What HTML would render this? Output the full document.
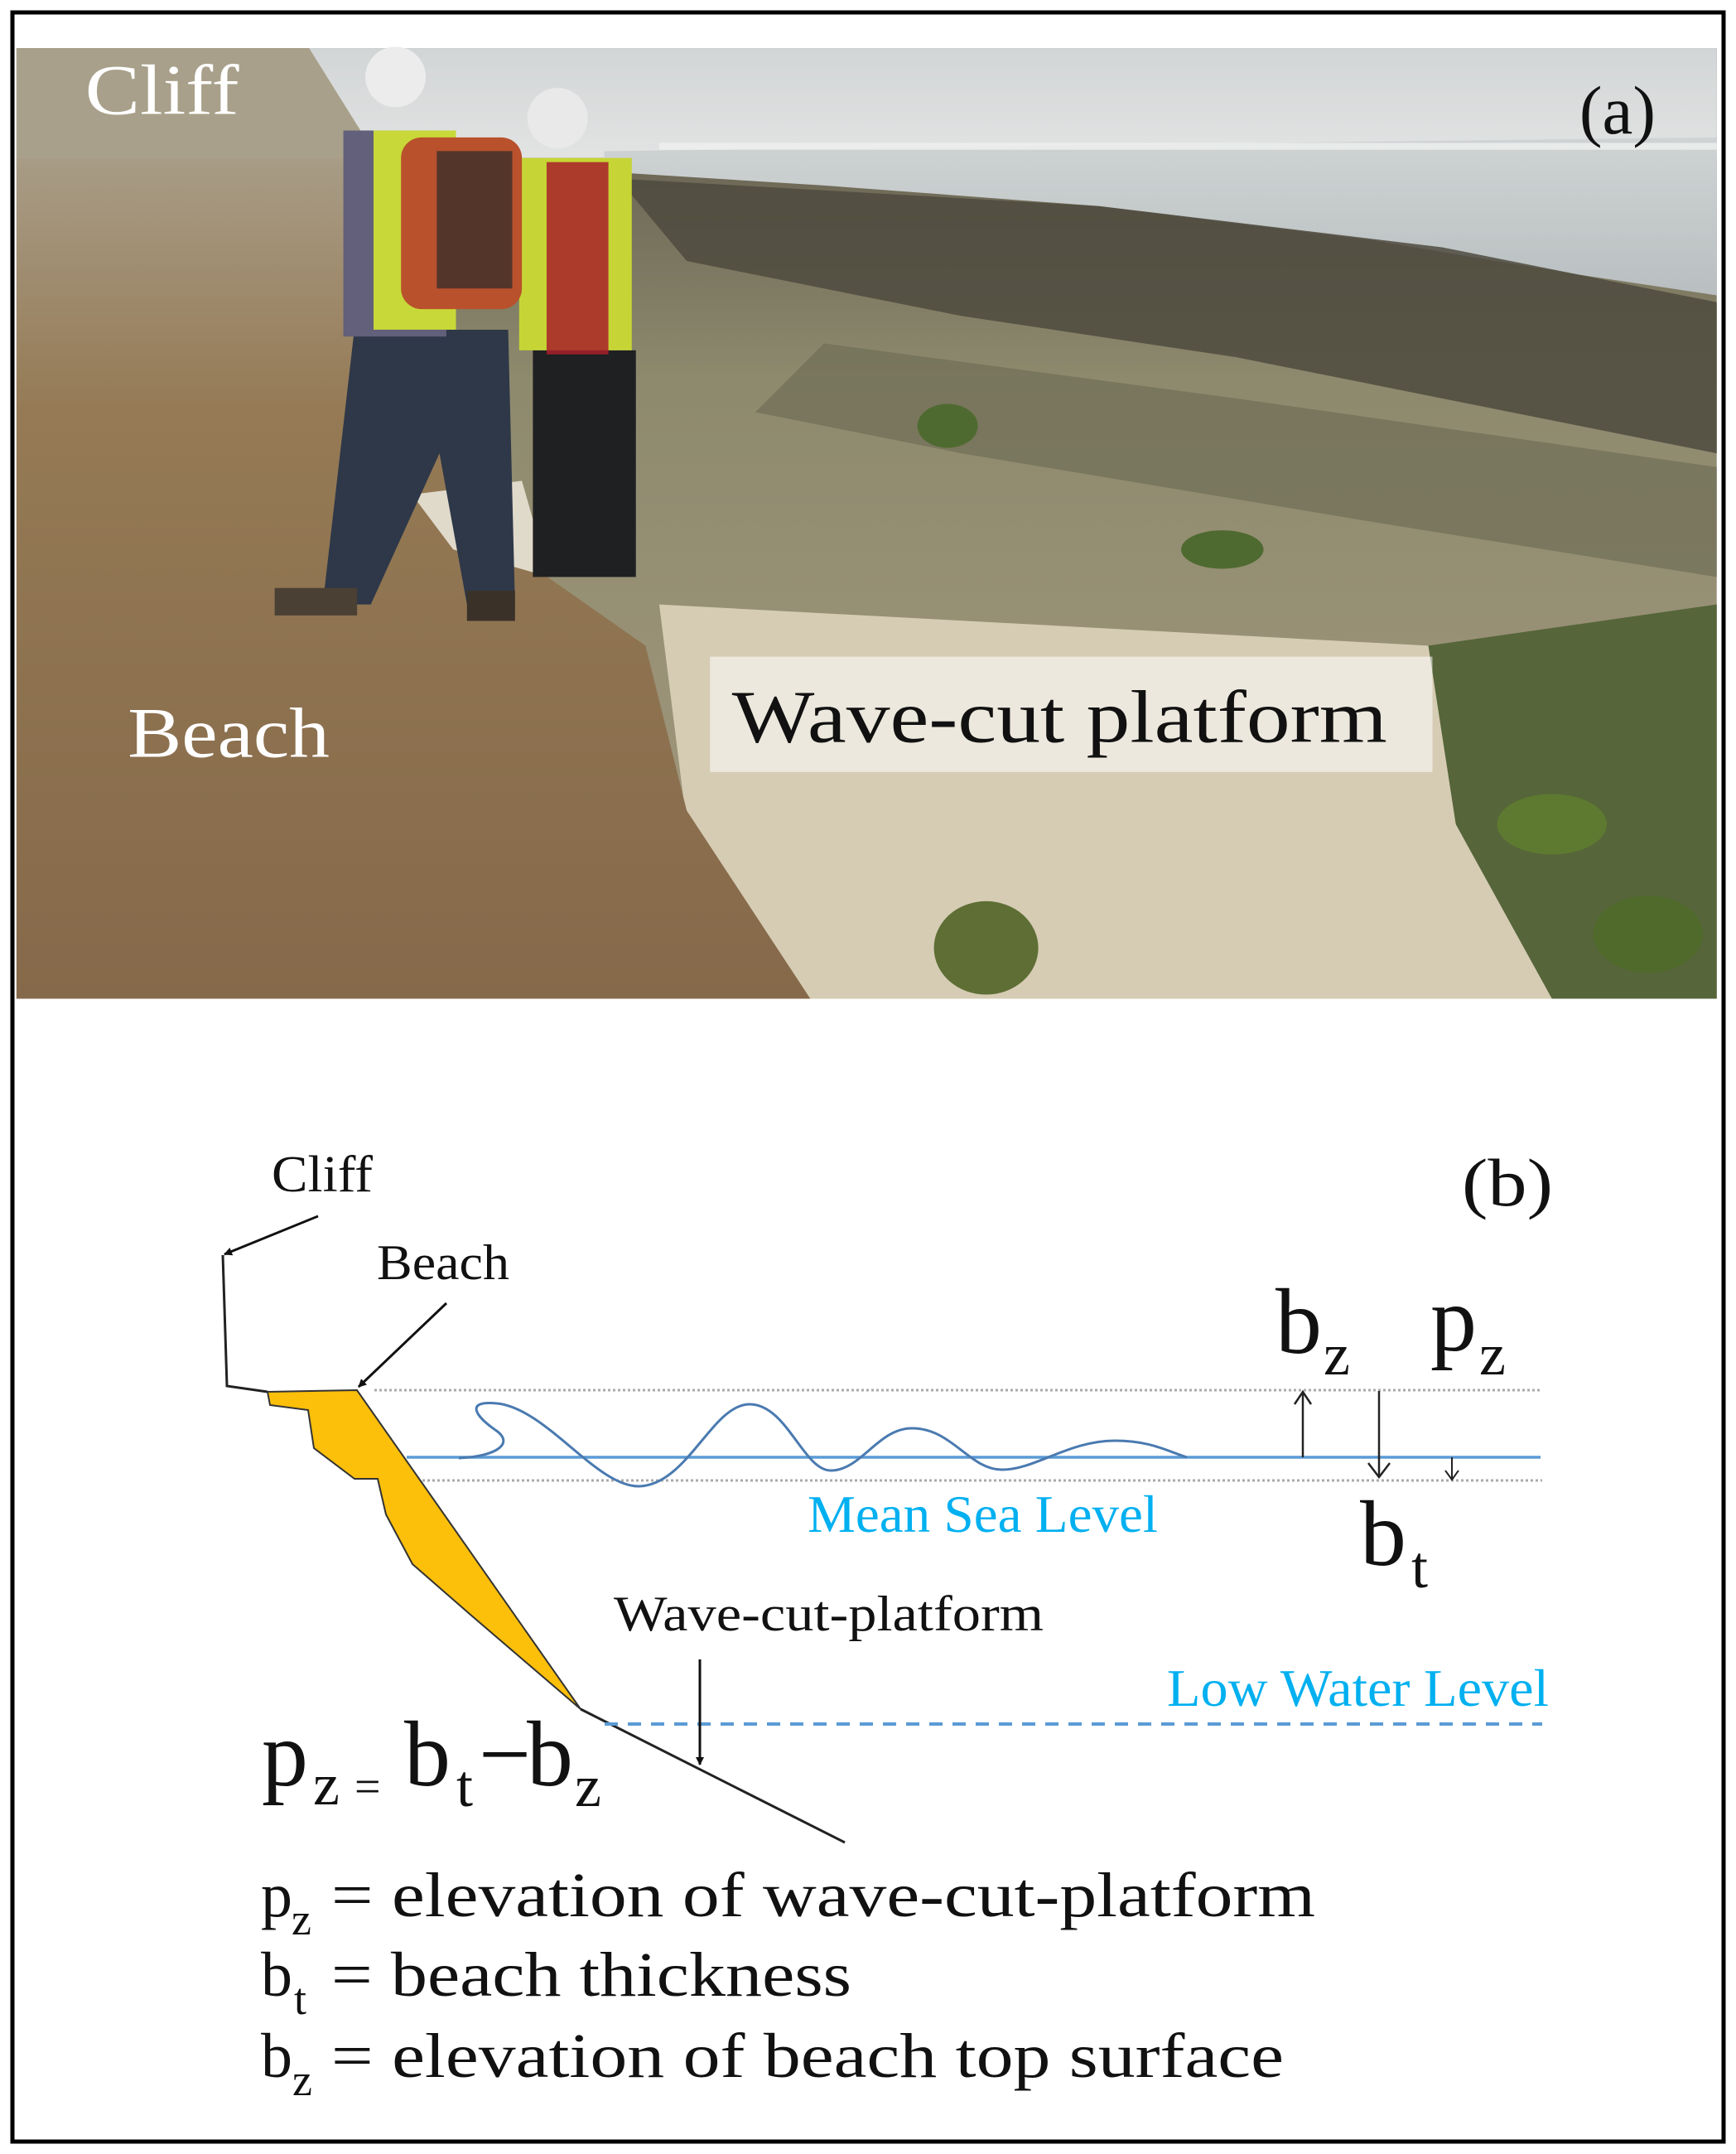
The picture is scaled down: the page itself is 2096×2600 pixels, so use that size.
<!DOCTYPE html>
<html><head><meta charset="utf-8"><style>
html,body{margin:0;padding:0;background:#fff}
svg{display:block}
text{font-family:"Liberation Serif",serif}
</style></head><body>
<svg width="2096" height="2600" viewBox="0 0 2096 2600" xmlns="http://www.w3.org/2000/svg">
<defs>
<linearGradient id="sky" x1="0" y1="0" x2="0" y2="1"><stop offset="0" stop-color="#d2d5d6"/><stop offset="1" stop-color="#e2e3e3"/></linearGradient>
<linearGradient id="sea" x1="0" y1="0" x2="0" y2="1"><stop offset="0" stop-color="#cfd3d4"/><stop offset="1" stop-color="#b9bfc0"/></linearGradient>
<linearGradient id="beach" x1="0" y1="0" x2="0" y2="1"><stop offset="0" stop-color="#a89c86"/><stop offset="0.3" stop-color="#957a55"/><stop offset="1" stop-color="#85694a"/></linearGradient>
<linearGradient id="plat" x1="0" y1="0" x2="0" y2="1"><stop offset="0" stop-color="#5a5548"/><stop offset="0.35" stop-color="#8e8a6e"/><stop offset="1" stop-color="#a59a80"/></linearGradient>
<marker id="fa" markerWidth="10" markerHeight="10" refX="9" refY="5" orient="auto" markerUnits="userSpaceOnUse" viewBox="0 0 10 10"><path d="M0,0 L10,5 L0,10 z" fill="#111"/></marker>
</defs>
<rect x="0" y="0" width="2096" height="2600" fill="#fff"/>
<g transform="scale(1.6582)">
  <rect x="12" y="35" width="1238" height="692" fill="url(#plat)"/>
  <rect x="12" y="35" width="1238" height="80" fill="url(#sky)"/>
  <polygon points="440,110 1250,100 1250,215 1150,200 1000,175 800,150 600,135 440,125" fill="url(#sea)"/>
  <rect x="480" y="104" width="770" height="5" fill="#f0f0f0" opacity="0.8"/>
  <polygon points="450,130 800,150 1050,180 1250,220 1250,330 1100,300 900,260 700,230 500,190" fill="#4e4a3e" opacity="0.85"/>
  <polygon points="600,250 900,290 1250,340 1250,420 1000,380 700,330 550,300" fill="#6f6d55" opacity="0.7"/>
  <polygon points="480,440 1040,470 1100,600 1200,727 560,727 500,600" fill="#d6ccb4"/>
  <polygon points="1040,470 1250,440 1250,727 1130,727 1060,600" fill="#56653a"/>
  <ellipse cx="718" cy="690" rx="38" ry="34" fill="#5e6e34"/>
  <ellipse cx="1130" cy="600" rx="40" ry="22" fill="#5d7a30"/>
  <ellipse cx="1200" cy="680" rx="40" ry="28" fill="#4f6a2a"/>
  <ellipse cx="690" cy="310" rx="22" ry="16" fill="#4f6a30"/>
  <ellipse cx="890" cy="400" rx="30" ry="14" fill="#4f6a30"/>
  <polygon points="12,35 225,35 275,115 12,122" fill="#a8a08a"/>
  <polygon points="12,115 255,115 300,250 370,400 470,470 500,590 590,727 12,727" fill="url(#beach)"/>
  <polygon points="300,360 380,350 400,420 330,400" fill="#e0dacb"/>
  <rect x="388" y="255" width="75" height="165" fill="#1f2022"/>
  <rect x="378" y="115" width="82" height="140" fill="#c6d535"/>
  <rect x="398" y="118" width="45" height="140" fill="#a8202a" opacity="0.85"/>
  <circle cx="406" cy="86" r="22" fill="#e9e9e9"/>
  <polygon points="258,240 370,240 375,440 340,440 320,330 270,440 235,440" fill="#2e3848"/>
  <rect x="250" y="95" width="75" height="150" fill="#62607a"/>
  <rect x="272" y="95" width="60" height="145" fill="#c8d838"/>
  <rect x="292" y="100" width="88" height="125" rx="15" fill="#b8512c"/>
  <rect x="318" y="110" width="55" height="100" fill="#2a2a2a" opacity="0.7"/>
  <circle cx="288" cy="56" r="22" fill="#ececec"/>
  <rect x="200" y="428" width="60" height="20" fill="#4a4034"/>
  <rect x="340" y="430" width="35" height="22" fill="#3a3228"/>
  <text x="62" y="83" font-size="52" fill="#fff" textLength="112" lengthAdjust="spacingAndGlyphs">Cliff</text>
  <text x="1150" y="97" font-size="50" fill="#111">(a)</text>
  <text x="93" y="551" font-size="52" fill="#fff" textLength="147" lengthAdjust="spacingAndGlyphs">Beach</text>
  <rect x="517" y="478" width="526" height="84" fill="#fff" opacity="0.55"/>
  <text x="533" y="540" font-size="54" fill="#111" textLength="477" lengthAdjust="spacingAndGlyphs">Wave-cut platform</text>
</g>
<rect x="15" y="15" width="2066" height="2570" fill="none" stroke="#000" stroke-width="5"/>

<text x="1765" y="1455" font-size="82" fill="#111" textLength="110" lengthAdjust="spacingAndGlyphs">(b)</text>
<text x="328" y="1438" font-size="62" fill="#111" textLength="122" lengthAdjust="spacingAndGlyphs">Cliff</text>
<text x="455" y="1544" font-size="60" fill="#111" textLength="160" lengthAdjust="spacingAndGlyphs">Beach</text>
<line x1="384" y1="1468" x2="271" y2="1514" stroke="#111" stroke-width="3" marker-end="url(#fa)"/>
<line x1="539" y1="1573" x2="433" y2="1674" stroke="#111" stroke-width="3" marker-end="url(#fa)"/>
<polyline points="269,1515 274,1673 323,1680" fill="none" stroke="#222" stroke-width="3"/>
<line x1="452" y1="1678" x2="1862" y2="1678" stroke="#aaa" stroke-width="3" stroke-dasharray="3,3"/>
<line x1="456" y1="1787" x2="1862" y2="1787" stroke="#aaa" stroke-width="3" stroke-dasharray="3,3"/>
<line x1="491" y1="1759" x2="1860" y2="1759" stroke="#5b9bd5" stroke-width="3.5"/>
<polygon points="323,1680 431,1678 701,2063 568,1949 498,1888 466,1828 456,1785 428,1785 379,1748 372,1702 326,1696" fill="#fcbf0a" stroke="#333" stroke-width="2"/>
<line x1="701" y1="2063" x2="1020" y2="2224" stroke="#222" stroke-width="3"/>
<line x1="730" y1="2081" x2="1862" y2="2081" stroke="#5b9bd5" stroke-width="4" stroke-dasharray="16,12"/>
<path d="M554,1760 C600,1758 622,1742 598,1726 C575,1710 560,1690 600,1694 C660,1700 720,1795 772,1794 C830,1792 860,1695 905,1695 C950,1695 970,1775 1003,1775 C1040,1775 1060,1724 1101,1724 C1150,1724 1170,1774 1210,1774 C1250,1774 1290,1739 1346,1739 C1390,1739 1410,1752 1433,1759" fill="none" stroke="#4a7ab0" stroke-width="3"/>
<line x1="1573" y1="1759" x2="1573" y2="1681" stroke="#222" stroke-width="2.5"/>
<polyline points="1563,1695 1573,1680 1583,1695" fill="none" stroke="#222" stroke-width="2.5"/>
<line x1="1665" y1="1679" x2="1665" y2="1782" stroke="#222" stroke-width="2.5"/>
<polyline points="1652,1766 1665,1783 1678,1766" fill="none" stroke="#222" stroke-width="2.5"/>
<line x1="1753" y1="1759" x2="1753" y2="1785" stroke="#222" stroke-width="2"/>
<polyline points="1745,1775 1753,1786 1761,1775" fill="none" stroke="#222" stroke-width="2"/>
<text x="1540" y="1633" font-size="112" fill="#111">b</text>
<text x="1598" y="1659" font-size="72" fill="#111">z</text>
<text x="1727" y="1630" font-size="112" fill="#111">p</text>
<text x="1786" y="1659" font-size="72" fill="#111">z</text>
<text x="1642" y="1889" font-size="112" fill="#111">b</text>
<text x="1704" y="1916" font-size="72" fill="#111">t</text>
<text x="975" y="1849" font-size="64" fill="#00b0f0" textLength="423" lengthAdjust="spacingAndGlyphs">Mean Sea Level</text>
<text x="1409" y="2059" font-size="64" fill="#00b0f0" textLength="461" lengthAdjust="spacingAndGlyphs">Low Water Level</text>
<text x="741" y="1968" font-size="60" fill="#111" textLength="519" lengthAdjust="spacingAndGlyphs">Wave-cut-platform</text>
<line x1="845" y1="2003" x2="845" y2="2130" stroke="#111" stroke-width="3" marker-end="url(#fa)"/>
<text font-size="112" fill="#111"><tspan x="316" y="2155">p</tspan><tspan x="378" y="2178" font-size="72">z</tspan><tspan x="428" y="2175" font-size="56">=</tspan><tspan x="488" y="2155">b</tspan><tspan x="551" y="2180" font-size="72">t</tspan><tspan x="578" y="2155">−</tspan><tspan x="636" y="2155">b</tspan><tspan x="694" y="2180" font-size="72">z</tspan></text>
<text x="315" y="2313" font-size="76" fill="#111">p</text><text x="352" y="2335" font-size="54" fill="#111">z</text>
<text x="400" y="2313" font-size="76" fill="#111" textLength="1188" lengthAdjust="spacingAndGlyphs">= elevation of wave-cut-platform</text>
<text x="315" y="2409" font-size="76" fill="#111">b</text><text x="355" y="2431" font-size="54" fill="#111">t</text>
<text x="400" y="2409" font-size="76" fill="#111" textLength="628" lengthAdjust="spacingAndGlyphs">= beach thickness</text>
<text x="315" y="2507" font-size="76" fill="#111">b</text><text x="353" y="2529" font-size="54" fill="#111">z</text>
<text x="400" y="2507" font-size="76" fill="#111" textLength="1150" lengthAdjust="spacingAndGlyphs">= elevation of beach top surface</text>
</svg>
</body></html>
